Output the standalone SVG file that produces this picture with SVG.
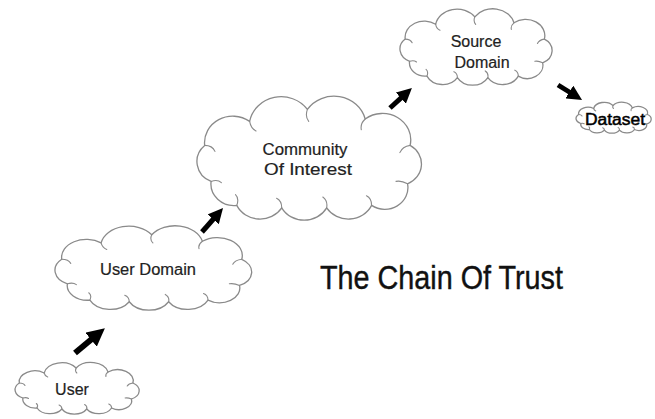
<svg xmlns="http://www.w3.org/2000/svg" xmlns:xlink="http://www.w3.org/1999/xlink" width="655" height="419" viewBox="0 0 655 419">
<style>
.cloud{fill:#fff;stroke:#8a8a8a;stroke-width:1.3;stroke-linejoin:round;stroke-linecap:round;vector-effect:non-scaling-stroke}
.hook{fill:none;stroke:#8a8a8a;stroke-width:1.1;stroke-linecap:round;vector-effect:non-scaling-stroke}
.faint .cloud,.faint .hook{stroke:#c2c2c2}
.lbl{font-family:"Liberation Sans",Arial,sans-serif;font-size:16px;fill:#222;stroke:#222;stroke-width:0.2;text-anchor:middle}
.title{font-family:"Liberation Sans",Arial,sans-serif;font-size:33px;fill:#111;stroke:#111;stroke-width:0.4}
.arrow{stroke:#000;fill:none;marker-end:url(#head)}
</style>
<defs>
<marker id="head" viewBox="0 0 12 12" refX="3" refY="6" markerWidth="3" markerHeight="3" orient="auto">
<path d="M0,0 L12,6 L0,12 Z" fill="#000"/>
</marker>
<g id="cloudShape">
<path class="cloud" d="M25,70 A18,18 0 0 1 20,40 A22,22 0 0 1 55,20 A25,25 0 0 1 100,10 A25,25 0 0 1 145,18 A22,22 0 0 1 180,40 A18,18 0 0 1 178,72 A18,18 0 0 1 150,90 A20,20 0 0 1 115,92 A20,20 0 0 1 80,92 A20,20 0 0 1 45,90 A18,18 0 0 1 25,70 Z"/>
<path class="hook" d="M20,40 q6,0 8,5 M55,20 q1,6 5,8 M100,10 q-2,6 1,10 M145,18 q-4,4 -3,9 M180,40 q-6,1 -8,6 M178,72 q-5,-3 -9,-2 M150,90 q0,-6 -4,-8 M115,92 q1,-6 -3,-9 M80,92 q0,-6 -4,-8 M45,90 q2,-6 -1,-9 M25,70 q5,-2 8,1"/>
</g>
</defs>

<g id="connectors">
<line class="arrow" x1="75" y1="353" x2="94.5" y2="336.8" stroke-width="6"/>
<line class="arrow" x1="202" y1="232" x2="215.6" y2="216.5" stroke-width="5"/>
<line class="arrow" x1="390" y1="108" x2="403.6" y2="95.6" stroke-width="5"/>
<line class="arrow" x1="558" y1="85" x2="572.5" y2="94" stroke-width="5"/>
</g>

<g id="user">
<use xlink:href="#cloudShape" transform="translate(5.1,363) scale(0.71,0.5)"/>
<text class="lbl" x="72" y="395">User</text>
</g>

<g id="user-domain">
<use xlink:href="#cloudShape" transform="translate(39.25,226.6) scale(1.125,0.817)"/>
<text class="lbl" x="148" y="275" textLength="96" lengthAdjust="spacingAndGlyphs">User Domain</text>
</g>

<g id="community-of-interest">
<use xlink:href="#cloudShape" transform="translate(179,97.4) scale(1.284,1.2)"/>
<text class="lbl" x="305" y="155" textLength="85" lengthAdjust="spacingAndGlyphs">Community</text>
<text class="lbl" x="308" y="175" textLength="88" lengthAdjust="spacingAndGlyphs">Of Interest</text>
</g>

<g id="source-domain">
<use xlink:href="#cloudShape" transform="translate(387.8,9.5) scale(0.87,0.74)"/>
<text class="lbl" x="476" y="47">Source</text>
<text class="lbl" x="482" y="68">Domain</text>
</g>

<g id="dataset" class="faint">
<use xlink:href="#cloudShape" transform="translate(570,102.5) scale(0.43,0.3)"/>
<text class="lbl" x="615" y="125" textLength="60" lengthAdjust="spacingAndGlyphs" style="fill:#000;stroke:#000;stroke-width:0.5">Dataset</text>
</g>

<text class="title" x="320" y="289" textLength="243" lengthAdjust="spacingAndGlyphs">The Chain Of Trust</text>
</svg>
